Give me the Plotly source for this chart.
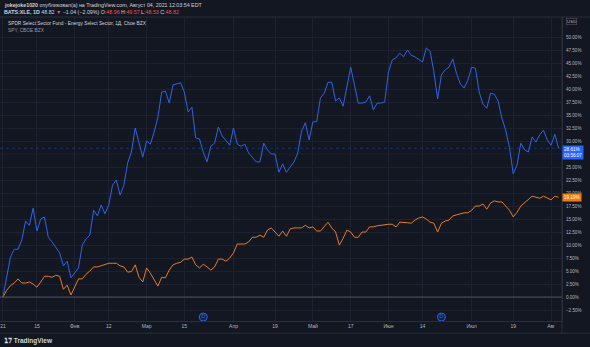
import pandas as pd
import plotly.graph_objects as go

# ---- data ----
holidays = ["2021-01-18", "2021-02-15", "2021-04-02", "2021-05-31", "2021-07-05"]
dates = [d.strftime("%Y-%m-%d") for d in
         pd.bdate_range("2021-01-04", "2021-08-04", freq="C", holidays=holidays)]

xle_pct = [0, 4.0, 7.7, 9.2, 9.2, 11, 14.6, 13.8, 17.1, 12.7,
           15, 15.4, 11.5, 10.6, 9.5, 8.5, 6, 6.9, 3.7, 4.6,
           5.6, 10, 11.2, 11.9, 16.7, 15.6, 17.7, 16, 17.7, 21.5,
           22.5, 19.6, 21.5, 25.8, 27.9, 32.5, 29.8, 26.9, 30, 29.4,
           31.7, 34.6, 39.4, 39.6, 37.3, 40.8, 41, 41.2, 39.4, 35.6,
           36.5, 30.6, 30.4, 27.9, 26, 29, 29.6, 32.7, 31.0, 30.0,
           29.2, 32.5, 29.4, 29, 29.4, 27.7, 26.8, 26, 26, 29.6,
           28.3, 27.5, 27.5, 24, 25.6, 24, 25, 26, 27.7, 31.9,
           33.5, 30.2, 33.7, 33.7, 38.3, 39.2, 41.3, 41.3, 37.7, 38.3,
           36.7, 40.5, 44.2, 40.8, 37.3, 37.3, 37.5, 38.7, 36, 37.3,
           37.3, 37.5, 43.3, 45.6, 46, 46.9, 46.2, 47.5, 46.5, 46.2,
           45.7, 45.2, 47.9, 47.3, 43.3, 38.1, 42.7, 43.7, 44.2, 45.8,
           43, 41, 40.2, 41.7, 44.2, 44, 39.4, 37.1, 36.3, 39.2,
           39, 37.7, 34.4, 32.1, 28.8, 23.7, 25.4, 29.6, 28.3, 27.9,
           30.8, 29.8, 31.2, 32.1, 30.2, 29.2, 31.3, 28.61]

spy_pct = [0, 1.3, 2.2, 2.7, 3.5, 2.7, 2.7, 2.9, 2.5, 1.9,
           2.9, 4, 4, 3.8, 4.2, 4, 1.5, 2.3, 0.4, 1.9,
           3.5, 3.5, 4.4, 5, 5.8, 5.8, 6, 6.3, 6.5, 6.5,
           6.5, 6, 5.8, 4.8, 4.9, 6.2, 3.8, 2.9, 5.6, 4.6,
           3.4, 2.1, 3.8, 3.7, 5.2, 6.2, 6.5, 6.7, 7.3, 7.3,
           7.7, 6.2, 5.6, 6.3, 5.8, 5.2, 5.8, 7.3, 7.3, 6.9,
           7.5, 8.5, 10.2, 10.2, 10.2, 10.6, 11.5, 11.5, 11.9, 11.5,
           12.9, 13.3, 12.5, 11.7, 12.7, 11.7, 13.1, 13.3, 13.3, 13.3,
           13.8, 13.3, 13.5, 12.7, 12.7, 13.6, 14.4, 13.3, 12.5, 10,
           11.3, 12.9, 12.5, 11.5, 11.5, 12.5, 12.5, 13.5, 13.5, 13.7,
           13.8, 14, 14, 14, 13.5, 14.4, 14.4, 14.3, 14.2, 14.8,
           15.2, 15.4, 15, 14.4, 14.2, 12.5, 14.2, 14.6, 14.8, 15.6,
           15.8, 16, 16.2, 16.2, 16.7, 17.5, 17.5, 17.9, 16.9, 18.1,
           18.5, 18.3, 18.3, 17.5, 16.7, 15.4, 16.3, 17.5, 18.1, 18.7,
           19.4, 19.2, 19, 19.4, 19, 18.7, 19.4, 19.19]

tick_dates = ["2021-01-04", "2021-01-15", "2021-02-01", "2021-02-12", "2021-03-01",
              "2021-03-15", "2021-04-01", "2021-04-19", "2021-05-03", "2021-05-17",
              "2021-06-01", "2021-06-14", "2021-07-01", "2021-07-19", "2021-08-02"]
tick_text = ["21", "15", "Фев", "12", "Мар", "15", "Апр", "19", "Май", "17",
             "Июн", "14", "Июл", "19", "Авг"]

# price-scale ticks; 27.50% sits under the last-value badge in the reference
y_ticks = [-2.5, 0, 2.5, 5, 7.5, 10, 12.5, 15, 17.5, 20, 22.5, 25,
           30, 32.5, 35, 37.5, 40, 42.5, 45, 47.5, 50]
y_text = [("−" if v < 0 else "") + f"{abs(v):.2f}%" for v in y_ticks]
grid_only = [27.5]

dividend_dates = ["2021-03-22", "2021-06-21"]

BG = "#131722"
GRID = "#1e2230"
BLUE = "#2f63e8"
ORANGE = "#e87b22"
TXT = "#b2b5be"
FONT = "Liberation Sans"

fig = go.Figure()
fig.add_trace(go.Scatter(x=dates, y=spy_pct, mode="lines",
                         line=dict(color=ORANGE, width=1), hoverinfo="skip"))
fig.add_trace(go.Scatter(x=dates, y=xle_pct, mode="lines",
                         line=dict(color=BLUE, width=1), hoverinfo="skip"))
fig.add_trace(go.Scatter(x=dividend_dates, y=[0.013] * len(dividend_dates), yaxis="y2",
                         mode="markers+text", text=["D"] * len(dividend_dates),
                         textposition="middle center",
                         textfont=dict(color=BLUE, size=5, family=FONT),
                         marker=dict(size=8, color="rgba(41,98,255,0.15)",
                                     line=dict(color=BLUE, width=1)),
                         hoverinfo="skip"))

# grid line for the hidden tick, zero line and last-price line
for g in grid_only:
    fig.add_hline(y=g, line=dict(color=GRID, width=1), layer="below")
fig.add_hline(y=0, line=dict(color="#505462", width=1))
fig.add_hline(y=xle_pct[-1], line=dict(color="rgba(47,99,232,0.35)", width=1, dash="dot"))

fig.update_layout(
    width=590, height=347,
    margin=dict(l=0, r=28, t=17, b=26),
    paper_bgcolor=BG, plot_bgcolor=BG,
    showlegend=False,
    font=dict(family=FONT, color=TXT, size=5),
    xaxis=dict(type="category", range=[-0.77, 147.9],
               tickmode="array", tickvals=tick_dates, ticktext=tick_text,
               showgrid=True, gridcolor=GRID, gridwidth=1,
               zeroline=False, showline=True, linecolor="#2a2e39",
               ticks="", tickfont=dict(size=5, color=TXT), automargin=False),
    yaxis=dict(side="right", range=[-4.6, 53.85],
               tickmode="array", tickvals=y_ticks, ticktext=y_text,
               showgrid=True, gridcolor=GRID, gridwidth=1,
               zeroline=False, showline=True, linecolor="#2a2e39",
               ticks="", ticklabelstandoff=2,
               tickfont=dict(size=4.6, color=TXT), automargin=False),
    yaxis2=dict(overlaying="y", range=[0, 1], visible=False),
)

ann = []
# header
ann.append(dict(xref="paper", yref="paper", x=0.004, y=1.0395, xanchor="left", yanchor="middle",
                showarrow=False, font=dict(size=5.3, color="#d1d4dc", family=FONT),
                text="<b>jokejoke1020</b> опубликовал(а) на TradingView.com, Август 04, 2021 12:03:54 EDT"))
ann.append(dict(xref="paper", yref="paper", x=0.004, y=1.018, xanchor="left", yanchor="middle",
                showarrow=False, font=dict(size=5.3, color="#d1d4dc", family=FONT),
                text="<b>BATS:XLE, 1D</b> 48.82 <span style='color:#ef5350'>▼</span> −1.04 (−2.09%) "
                     "O:<span style='color:#ef5350'>48.96</span> H:<span style='color:#ef5350'>49.57</span> "
                     "L:<span style='color:#ef5350'>48.53</span> C:<span style='color:#ef5350'>48.82</span>"))
# legend
ann.append(dict(xref="paper", yref="paper", x=0.01, y=0.977, xanchor="left", yanchor="middle",
                showarrow=False, font=dict(size=4.8, color="#d1d4dc", family=FONT),
                text="SPDR Select Sector Fund - Energy Select Sector, 1Д, Cboe BZX"))
ann.append(dict(xref="paper", yref="paper", x=0.01, y=0.957, xanchor="left", yanchor="middle",
                showarrow=False, font=dict(size=4.8, color="#9598a1", family=FONT),
                text="SPY, CBOE BZX"))
# price badges
ann.append(dict(xref="paper", yref="y", x=1.0, y=xle_pct[-1], xanchor="left", yanchor="top",
                yshift=3, showarrow=False, bgcolor="#2962ff", borderpad=1,
                font=dict(size=4.6, color="#ffffff", family=FONT),
                text=f"{xle_pct[-1]:.2f}%<br>03:56:07", align="left"))
ann.append(dict(xref="paper", yref="y", x=1.0, y=spy_pct[-1], xanchor="left", yanchor="middle",
                showarrow=False, bgcolor="#f57c00", borderpad=1,
                font=dict(size=4.6, color="#ffffff", family=FONT),
                text=f"{spy_pct[-1]:.2f}%"))
# USD badge
ann.append(dict(xref="paper", yref="paper", x=1.008, y=0.985, xanchor="left", yanchor="middle",
                showarrow=False, bgcolor=BG, bordercolor="#50535e", borderwidth=0.6, borderpad=0.5,
                font=dict(size=4.4, color=TXT, family=FONT), text="USD"))
# footer
ann.append(dict(xref="paper", yref="paper", x=0.004, y=-0.066, xanchor="left", yanchor="middle",
                showarrow=False, font=dict(size=6.5, color="#d1d4dc", family=FONT),
                text="<b>𝟣𝟩</b> <b>TradingView</b>"))
fig.update_layout(annotations=ann)

# pane frame lines
fig.add_shape(type="line", xref="paper", yref="paper", x0=0, x1=1.05, y0=1, y1=1,
              line=dict(color="#2a2e39", width=1))
fig.add_shape(type="line", xref="paper", yref="paper", x0=0, x1=1.05, y0=-0.04, y1=-0.04,
              line=dict(color="#2a2e39", width=1))
fig.add_shape(type="line", xref="paper", yref="paper", x0=1, x1=1, y0=-0.04, y1=1,
              line=dict(color="#2a2e39", width=1))

fig.write_html("out.html")
